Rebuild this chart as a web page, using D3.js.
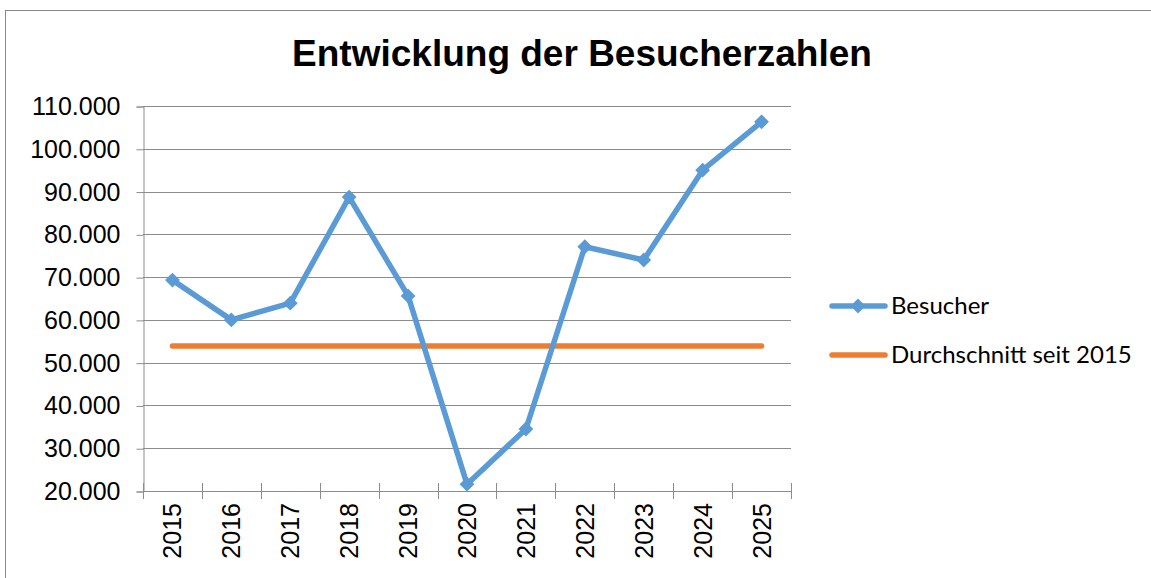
<html>
<head>
<meta charset="utf-8">
<script src="https://d3js.org/d3.v7.min.js"></script>
<style>
  body { margin: 0; background: #fff; }
  svg { display: block; }
</style>
</head>
<body>
<svg width="1151" height="578"></svg>
<script>
// data
var years = ['2015','2016','2017','2018','2019','2020','2021','2022','2023','2024','2025'];
var besucher = [69300, 60000, 63900, 88700, 65600, 21600, 34500, 77100, 74000, 95000, 106300];
var durchschnitt = [53900, 53900, 53900, 53900, 53900, 53900, 53900, 53900, 53900, 53900, 53900];
var yTicks = [20000, 30000, 40000, 50000, 60000, 70000, 80000, 90000, 100000, 110000];
var seriesNames = ['Besucher', 'Durchschnitt seit 2015'];

var blue = '#5b9bd5', orange = '#ed7d31', grid = '#8c8c8c';
var font = 'Liberation Sans, Arial, sans-serif';
var svg = d3.select('svg');

// outer frame
svg.append('rect')
  .attr('x', 5.5).attr('y', 10.5)
  .attr('width', 1160).attr('height', 600)
  .attr('fill', 'none').attr('stroke', '#888').attr('stroke-width', 1);

var pLeft = 143, pRight = 791, pTop = 106, pBottom = 491;

var x = d3.scaleBand().domain(years).range([pLeft, pRight]);
var y = d3.scaleLinear().domain([20000, 110000]).range([pBottom, pTop]);
var fmt = function(v) { return d3.format(',')(v).replace(/,/g, '.'); };

// title
svg.append('text')
  .attr('x', 582).attr('y', 66)
  .attr('text-anchor', 'middle')
  .attr('font-family', font)
  .attr('font-weight', 'bold')
  .attr('font-size', 37)
  .text('Entwicklung der Besucherzahlen');

// gridlines
svg.append('g').selectAll('line').data(yTicks).enter().append('line')
  .attr('x1', pLeft).attr('x2', pRight)
  .attr('y1', function(d) { return Math.round(y(d)) + 0.5; })
  .attr('y2', function(d) { return Math.round(y(d)) + 0.5; })
  .attr('stroke', grid).attr('stroke-width', 1);

// y axis
var yAxis = svg.append('g')
  .attr('transform', 'translate(' + (pLeft + 0.5) + ',0.5)')
  .call(d3.axisLeft(y).tickValues(yTicks).tickFormat(fmt).tickSize(7).tickPadding(16));
yAxis.select('.domain').attr('stroke', grid);
yAxis.selectAll('.tick line').attr('stroke', grid);
yAxis.selectAll('.tick text')
  .attr('font-family', font)
  .attr('font-size', 25).attr('fill', '#000');

// x axis ticks (between categories, crossing)
var bounds = years.map(function(d) { return x(d); }).concat([pRight]);
svg.append('g').selectAll('line').data(bounds).enter().append('line')
  .attr('x1', function(d) { return Math.round(d) + 0.5; })
  .attr('x2', function(d) { return Math.round(d) + 0.5; })
  .attr('y1', pBottom - 8).attr('y2', pBottom + 8)
  .attr('stroke', grid);

svg.append('g').selectAll('text').data(years).enter().append('text')
  .attr('transform', function(d) {
    return 'translate(' + (x(d) + x.bandwidth() / 2 + 9) + ',' + (pBottom + 12) + ') rotate(-90)';
  })
  .attr('text-anchor', 'end')
  .attr('font-family', font)
  .attr('font-size', 25)
  .text(function(d) { return d; });

var cx = function(d, i) { return x(years[i]) + x.bandwidth() / 2; };

// average line
svg.append('path')
  .datum(durchschnitt)
  .attr('d', d3.line().x(cx).y(function(d) { return y(d); }))
  .attr('fill', 'none').attr('stroke', orange)
  .attr('stroke-width', 5.5).attr('stroke-linecap', 'round');

// visitors line
svg.append('path')
  .datum(besucher)
  .attr('d', d3.line().x(cx).y(function(d) { return y(d); }))
  .attr('fill', 'none').attr('stroke', blue)
  .attr('stroke-width', 5.5).attr('stroke-linejoin', 'round').attr('stroke-linecap', 'round');

var diamond = d3.symbol().type(d3.symbolDiamond2).size(140);
svg.append('g').selectAll('path').data(besucher).enter().append('path')
  .attr('d', diamond)
  .attr('transform', function(d, i) { return 'translate(' + cx(d, i) + ',' + y(d) + ')'; })
  .attr('fill', blue);

// legend
var leg = svg.append('g');
var legY = [306, 355];
var legColors = [blue, orange];
seriesNames.forEach(function(name, i) {
  leg.append('line')
    .attr('x1', 832).attr('x2', 885)
    .attr('y1', legY[i]).attr('y2', legY[i])
    .attr('stroke', legColors[i]).attr('stroke-width', 5.5).attr('stroke-linecap', 'round');
  if (i === 0) {
    leg.append('path')
      .attr('d', diamond)
      .attr('transform', 'translate(858,' + legY[i] + ')')
      .attr('fill', blue);
  }
  leg.append('text')
    .attr('x', 891).attr('y', legY[i] + 8)
    .attr('font-family', 'Lato, "Open Sans", sans-serif')
    .attr('font-size', 24)
    .text(name);
});
</script>
</body>
</html>
